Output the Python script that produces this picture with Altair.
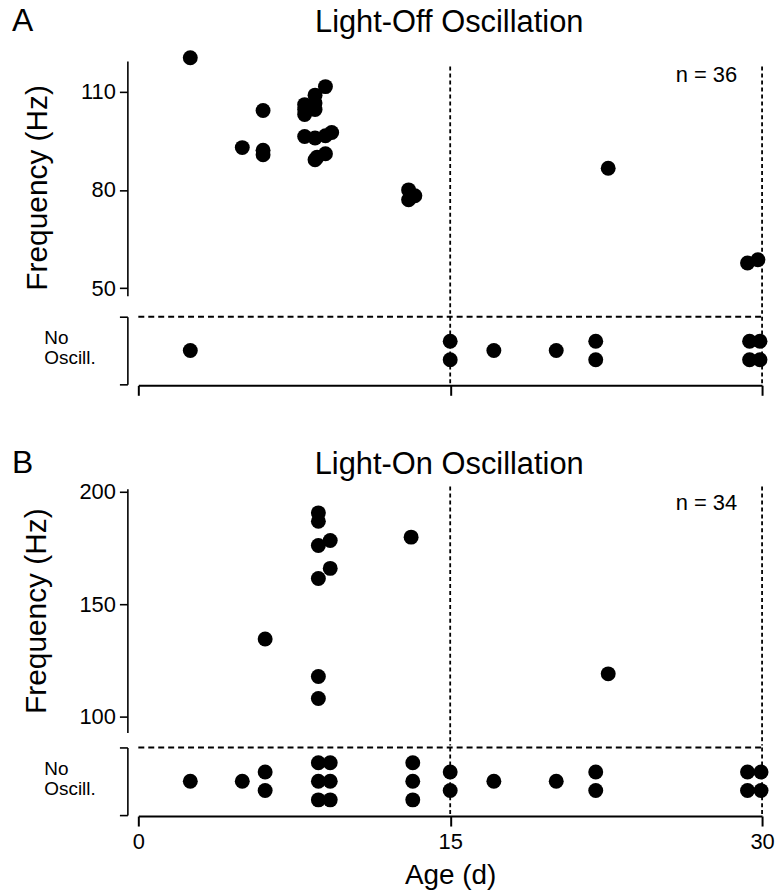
import altair as alt
import pandas as pd

FONT = "Liberation Sans"

# ---------------- data ----------------
# Panel A: Light-Off oscillation (frequency, Hz)
a_age = [2.5, 6.0, 5.0, 6.0, 6.0,
         8.0, 8.0, 8.0, 8.5, 8.5, 8.5, 9.0,
         8.0, 8.5, 9.0, 9.3,
         8.5, 9.0, 8.6,
         13.0, 13.0, 13.3,
         22.6, 29.3, 29.8]
a_freq = [120.3, 104.2, 92.9, 92.1, 90.7,
          106.0, 104.5, 103.0, 106.5, 104.5, 108.9, 111.5,
          96.3, 95.8, 96.5, 97.5,
          89.2, 91.0, 90.0,
          80.0, 77.0, 78.2,
          86.6, 57.7, 58.7]
# Panel A: no oscillation (age, stacking row)
a_no_age = [2.5, 15.0, 15.0, 17.1, 20.1, 22.0, 22.0, 29.4, 29.4, 29.9, 29.9]
a_no_row = [0, 0.5, -0.5, 0, 0, 0.5, -0.5, 0.5, -0.5, 0.5, -0.5]

# Panel B: Light-On oscillation
b_age = [8.66, 8.66, 8.66, 9.23, 9.23, 8.66, 13.12, 6.1, 8.66, 8.66, 22.6]
b_freq = [190.6, 186.9, 176.1, 178.3, 165.9, 161.4, 179.8, 134.5, 117.8, 108.0, 119.0]
b_no_age = [2.5, 5.0, 6.1, 6.1, 8.66, 8.66, 8.66, 9.23, 9.23, 9.23,
            13.2, 13.2, 13.2, 15.0, 15.0, 17.1, 20.1, 22.0, 22.0,
            29.3, 29.3, 29.95, 29.95]
b_no_row = [0, 0, 0.5, -0.5, 1, 0, -1, 1, 0, -1,
            1, 0, -1, 0.5, -0.5, 0, 0, 0.5, -0.5,
            0.5, -0.5, 0.5, -0.5]

x_ticks = [0, 15, 30]
x_dom = [0, 30]
v_lines = [15, 30]

W = 627
STRIP_H = 68
ROW_LIM = 1.82
PT = 225
NOVIEW = alt.ViewBackground(stroke="transparent", strokeWidth=0, strokeOpacity=0)


def xs(axis):
    return alt.X("age:Q", scale=alt.Scale(domain=x_dom, nice=False, zero=False), axis=axis)


def main_panel(age, freq, dom, ticks, rule_top, rule_bot, height, title, letter, ntext,
               head_y, title_y):
    yscale = alt.Scale(domain=dom, nice=False, zero=False)
    yaxis = alt.Axis(values=ticks, title="Frequency (Hz)", titleFontSize=30, titlePadding=28,
                     titleY=title_y, labelFontSize=22, labelPadding=4, tickSize=8, offset=11)
    df = pd.DataFrame({"age": age, "freq": freq})
    pts = alt.Chart(df).mark_circle(size=PT, color="black", opacity=1).encode(
        x=xs(None), y=alt.Y("freq:Q", scale=yscale, axis=yaxis))
    rdf = pd.DataFrame({"age": v_lines, "freq": [rule_top] * 2, "freq2": [rule_bot] * 2})
    rules = alt.Chart(rdf).mark_rule(color="black", strokeDash=[4, 3], strokeWidth=1.8).encode(
        x=xs(None), y=alt.Y("freq:Q", scale=yscale, axis=yaxis), y2="freq2:Q")
    lab = alt.Chart(pd.DataFrame({"t": [letter]})).mark_text(
        font=FONT, fontSize=32, align="left", baseline="middle", color="black").encode(
        text="t:N", x=alt.value(-127), y=alt.value(head_y))
    ttl = alt.Chart(pd.DataFrame({"t": [title]})).mark_text(
        font=FONT, fontSize=31, align="center", baseline="middle", color="black").encode(
        text="t:N", x=alt.value(W / 2 - 1), y=alt.value(head_y + 2))
    nlab = alt.Chart(pd.DataFrame({"t": [ntext]})).mark_text(
        font=FONT, fontSize=22, align="right", baseline="middle", color="black").encode(
        text="t:N", x=alt.value(W - 25), y=alt.value(14))
    return alt.layer(rules, pts, lab, ttl, nlab).properties(width=W, height=height, view=NOVIEW)


def strip_panel(age, row, show_labels):
    yscale = alt.Scale(domain=[-ROW_LIM, ROW_LIM], nice=False, zero=False)
    yaxis = alt.Axis(values=[-ROW_LIM, ROW_LIM], labels=False, tickSize=8, offset=11,
                     title=["No", "Oscill."], titleAngle=0, titleAlign="left",
                     titleBaseline="top", titleX=-84, titleY=12, titleFontSize=19,
                     titleLineHeight=20)
    if show_labels:
        xaxis = alt.Axis(values=x_ticks, title="Age (d)", titleFontSize=28, titlePadding=9,
                         labelFontSize=22, labelPadding=6, labelFlush=False, tickSize=10,
                         tickWidth=2, domainWidth=2, offset=1)
    else:
        xaxis = alt.Axis(values=x_ticks, labels=False, title=None,
                         tickSize=10, tickWidth=2, domainWidth=2, offset=1)
    df = pd.DataFrame({"age": age, "row": row})
    pts = alt.Chart(df).mark_circle(size=PT, color="black", opacity=1).encode(
        x=xs(xaxis), y=alt.Y("row:Q", scale=yscale, axis=yaxis))
    hdf = pd.DataFrame({"age": [x_dom[0]], "age2": [x_dom[1]], "row": [ROW_LIM]})
    hline = alt.Chart(hdf).mark_rule(color="black", strokeDash=[6, 4], strokeWidth=2).encode(
        x=xs(xaxis), x2="age2:Q", y=alt.Y("row:Q", scale=yscale, axis=yaxis))
    vdf = pd.DataFrame({"age": v_lines, "row": [ROW_LIM] * 2, "row2": [-ROW_LIM] * 2})
    vl = alt.Chart(vdf).mark_rule(color="black", strokeDash=[4, 3], strokeWidth=1.8).encode(
        x=xs(xaxis), y=alt.Y("row:Q", scale=yscale, axis=yaxis), y2="row2:Q")
    return alt.layer(vl, hline, pts).properties(width=W, height=STRIP_H, view=NOVIEW)


a_main = main_panel(a_age, a_freq, [47.7, 119.3], [50, 80, 110], 117.6, 42.2, 236,
                    "Light-Off Oscillation", "A", "n = 36", -40, 127)
a_strip = strip_panel(a_no_age, a_no_row, False)
b_main = main_panel(b_age, b_freq, [92.9, 201.3], [100, 150, 200], 202.3, 87.15, 245,
                    "Light-On Oscillation", "B", "n = 34", -26, 122.5)
b_strip = strip_panel(b_no_age, b_no_row, True)

panel_a = alt.vconcat(a_main, a_strip, spacing=0)
panel_b = alt.vconcat(b_main, b_strip, spacing=0)

chart = alt.vconcat(panel_a, panel_b, spacing=51).properties(
    padding={"left": 4, "top": -5, "right": 0, "bottom": 0}
).configure_view(stroke="transparent", strokeWidth=0, strokeOpacity=0).configure(
    font=FONT).configure_axis(
    grid=False, domainColor="black", domainWidth=1.6, tickColor="black", tickWidth=1.6,
    labelColor="black", titleColor="black", labelFont=FONT, titleFont=FONT,
    titleFontWeight="normal")

chart.save("out.html", embed_options={"renderer": "svg", "actions": False})
